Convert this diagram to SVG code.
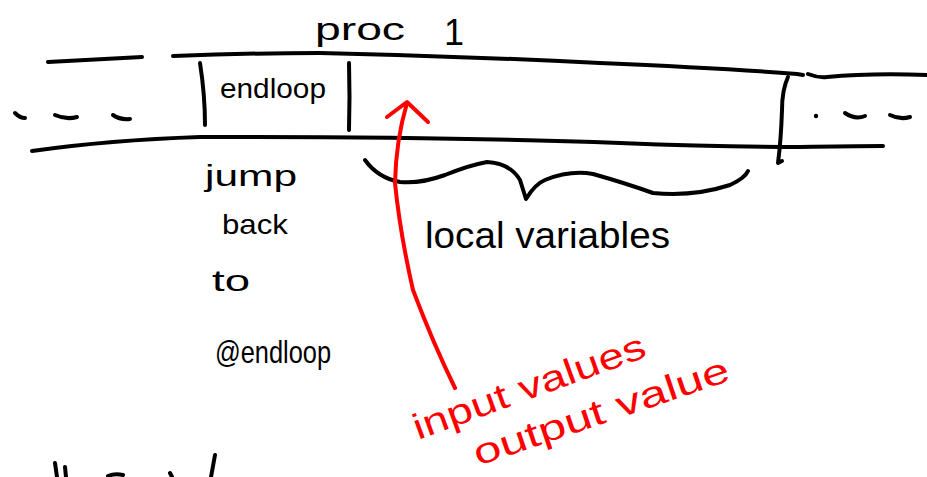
<svg xmlns="http://www.w3.org/2000/svg" width="927" height="477" viewBox="0 0 927 477">
<style>
.k{fill:none;stroke:#000;stroke-width:4;stroke-linecap:round;stroke-linejoin:round}
.r{fill:none;stroke:#ff0000;stroke-width:4;stroke-linecap:round;stroke-linejoin:round}
.t{font-family:"Liberation Sans",Arial,sans-serif;fill:#000}
.rt{font-family:"Liberation Sans",Arial,sans-serif;fill:#ff0000}
</style>
<rect width="927" height="477" fill="#fff"/>
<g id="frame">
<path class="k" d="M48 62 L142 57"/>
<path class="k" d="M173 56 Q250 53 320 53 Q460 56 600 63 Q720 68 797 74 L803 75"/>
<path class="k" d="M808 74 Q818 78 827 77 Q870 73 927 75"/>
<path class="k" d="M32 151 Q110 140 200 137 Q460 137 620 143 Q720 147 800 147 Q850 146 883 146"/>
<path class="k" d="M788 77 Q782 90 782 110 Q781 140 778 163 L782 161"/>
<path class="k" d="M15 113 Q20 118 25 118"/>
<path class="k" d="M55 115 Q66 120 77 117"/>
<path class="k" d="M113 115 Q120 120 130 119"/>
<circle cx="816" cy="116" r="2.2" fill="#000"/>
<path class="k" d="M845 113 Q855 120 865 116"/>
<path class="k" d="M890 115 Q900 120 910 117"/>
</g>
<g id="endloop">
<path class="k" d="M200 63 Q205 95 205 125"/>
<path class="k" d="M349 63 Q350 97 349 130"/>
<text class="t" x="220" y="98" font-size="27" textLength="106" lengthAdjust="spacingAndGlyphs">endloop</text>
</g>
<g id="proc">
<text class="t" x="315" y="40" font-size="32" textLength="90" lengthAdjust="spacingAndGlyphs">proc</text>
<text class="t" x="444" y="45" font-size="36">1</text>
</g>
<g id="jumpback">
<text class="t" x="205" y="186" font-size="30" textLength="92" lengthAdjust="spacingAndGlyphs">jump</text>
<text class="t" x="222" y="234" font-size="28" textLength="66" lengthAdjust="spacingAndGlyphs">back</text>
<text class="t" x="212" y="291" font-size="30" textLength="38" lengthAdjust="spacingAndGlyphs">to</text>
<text class="t" x="215" y="363" font-size="32" textLength="116" lengthAdjust="spacingAndGlyphs">@endloop</text>
</g>
<g id="locals">
<path class="k" d="M365 160 Q378 178 400 182 Q420 184 445 175 Q470 165 487 162 Q510 163 520 180 L526 199 Q535 184 545 180 Q570 170 593 174 Q625 183 653 193 Q693 197 730 185 Q745 178 748 171"/>
<text class="t" x="425" y="248" font-size="36" textLength="245" lengthAdjust="spacingAndGlyphs">local variables</text>
</g>
<g id="connectors">
<path class="r" d="M455 388 Q433 343 413 290 Q400 233 395 183 Q396 140 407 103"/>
<path class="r" d="M387 117 L407 102 L428 122"/>
</g>
<g id="io">
<text class="rt" font-size="36" transform="translate(418 440) rotate(-20)" textLength="245" lengthAdjust="spacingAndGlyphs">input values</text>
<text class="rt" font-size="36" transform="translate(478 466) rotate(-18.7)" textLength="268" lengthAdjust="spacingAndGlyphs">output value</text>
</g>
<g id="cutoff">
<path class="k" d="M55 463 L57 477"/>
<path class="k" d="M65 467 L66 477"/>
<path class="k" d="M108 476 Q115 473 123 475"/>
<path class="k" d="M170 473 L172 477"/>
<path class="k" d="M215 455 L211 477"/>
</g>
</svg>
